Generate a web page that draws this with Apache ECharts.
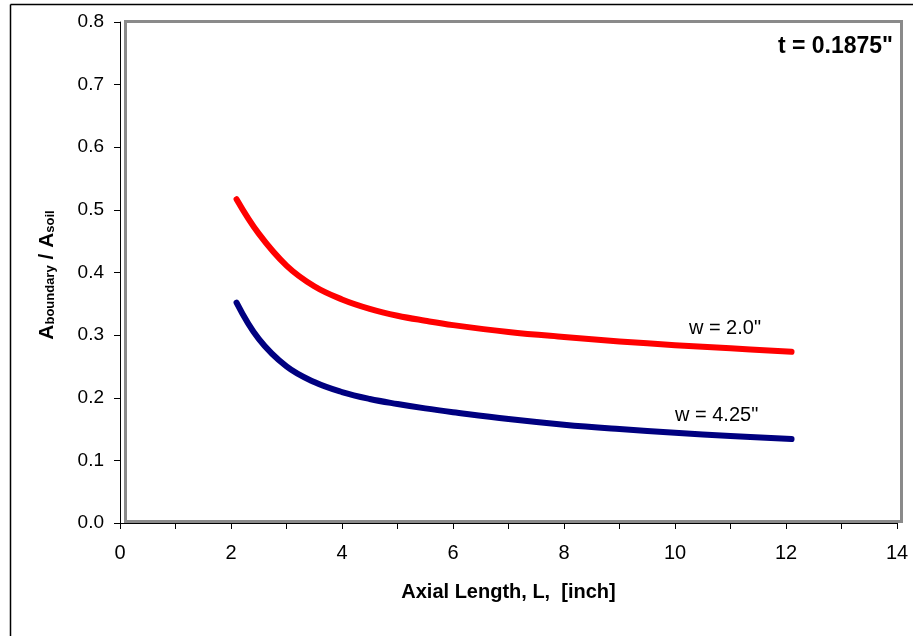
<!DOCTYPE html>
<html>
<head>
<meta charset="utf-8">
<title>Boundary area ratio vs axial length</title>
<script src="https://cdn.jsdelivr.net/npm/echarts@6/dist/echarts.min.js"></script>
<style>
  html, body { margin: 0; padding: 0; background: #fff; }
  #chart { width: 921px; height: 636px; }
</style>
</head>
<body>
<div id="chart"></div>
<script>
// Axial length L [inch] at which the ratio was evaluated
const axialLength = [2.1, 2.5, 3.0, 3.5, 4.0, 4.5, 5.0, 5.5, 6.0, 7.0, 8.0, 9.0, 10.0, 11.0, 12.1];

// A_boundary / A_soil for t = 0.1875"
const ratioW2 = [0.517, 0.462, 0.411, 0.378, 0.357, 0.342, 0.331, 0.323, 0.316, 0.305, 0.297, 0.290, 0.284, 0.279, 0.2735];
const ratioW425 = [0.352, 0.294, 0.250, 0.225, 0.209, 0.198, 0.190, 0.183, 0.177, 0.166, 0.157, 0.150, 0.144, 0.139, 0.134];

// Curve labels: text and the data point they sit at
const curveLabels = [
  { text: 'w = 2.0"', at: [10.9, 0.31] },
  { text: 'w = 4.25"', at: [10.75, 0.172] }
];
const caseLabel = 't = 0.1875"';

const FONT = 'Arial, "Liberation Sans", sans-serif';

function pairs(xs, ys) {
  return xs.map((x, i) => [x, ys[i]]);
}

function curve(name, values, color, label) {
  return {
    name: name,
    type: 'line',
    data: pairs(axialLength, values),
    smooth: 0.4,
    symbol: 'none',
    lineStyle: { color: color, width: 6, cap: 'round', join: 'round' },
    z: 5,
    markPoint: {
      symbol: 'circle',
      symbolSize: 0,
      silent: true,
      label: {
        show: true,
        formatter: label.text,
        color: '#000',
        fontFamily: FONT,
        fontSize: 20,
        position: 'inside'
      },
      data: [{ coord: label.at }]
    }
  };
}

const chart = echarts.init(document.getElementById('chart'), null, { renderer: 'canvas' });

chart.setOption({
  backgroundColor: '#fff',
  animation: false,
  grid: { left: 120, right: 24, top: 22, bottom: 113, containLabel: false },
  xAxis: {
    type: 'value',
    min: 0,
    max: 14,
    interval: 1,
    axisLine: { show: true, onZero: false, lineStyle: { color: '#000', width: 1 } },
    axisTick: { show: true, inside: false, length: 6, lineStyle: { color: '#000' } },
    axisLabel: {
      color: '#000',
      fontFamily: FONT,
      fontSize: 20,
      margin: 20,
      formatter: v => (v % 2 === 0 ? String(v) : '')
    },
    splitLine: { show: false },
    name: 'Axial Length, L,  [inch]',
    nameLocation: 'middle',
    nameGap: 59,
    nameTextStyle: { color: '#000', fontFamily: FONT, fontSize: 20, fontWeight: 'bold' }
  },
  yAxis: {
    type: 'value',
    min: 0,
    max: 0.8,
    interval: 0.1,
    axisLine: { show: true, onZero: false, lineStyle: { color: '#000', width: 1 } },
    axisTick: { show: true, inside: false, length: 6, lineStyle: { color: '#000' } },
    axisLabel: {
      color: '#000',
      fontFamily: FONT,
      fontSize: 19,
      margin: 16,
      formatter: v => v.toFixed(1)
    },
    splitLine: { show: false }
  },
  graphic: [
    // outer chart frame (top and left edges)
    { type: 'line', silent: true, shape: { x1: 10.5, y1: 4.5, x2: 913, y2: 4.5 }, style: { stroke: '#000', lineWidth: 1.5 } },
    { type: 'line', silent: true, shape: { x1: 10.5, y1: 4.5, x2: 10.5, y2: 636 }, style: { stroke: '#000', lineWidth: 1.5 } },
    // plot area frame
    {
      type: 'rect', silent: true, z: -1,
      shape: { x: 125.5, y: 21.5, width: 776, height: 500 },
      style: { fill: 'none', stroke: '#8a8a8a', lineWidth: 3 }
    },
    // case annotation
    {
      type: 'text', silent: true,
      style: {
        text: caseLabel, x: 893, y: 47, align: 'right', verticalAlign: 'middle',
        fill: '#000', font: 'bold 23px ' + FONT
      }
    },
    // y axis title with subscripts
    {
      type: 'text', silent: true,
      x: 47, y: 275, rotation: Math.PI / 2,
      style: {
        text: '{m|A}{s|boundary}{m| / A}{s|soil}',
        align: 'center', verticalAlign: 'middle',
        fill: '#000',
        rich: {
          m: { fontFamily: FONT, fontSize: 21, fontWeight: 'bold', lineHeight: 26, verticalAlign: 'middle', fill: '#000' },
          s: { fontFamily: FONT, fontSize: 13, fontWeight: 'bold', lineHeight: 13, verticalAlign: 'bottom', padding: [0, 0, 3, 0], fill: '#000' }
        }
      }
    }
  ],
  series: [
    curve('w = 2.0"', ratioW2, '#ff0000', curveLabels[0]),
    curve('w = 4.25"', ratioW425, '#000080', curveLabels[1])
  ]
});
</script>
</body>
</html>
